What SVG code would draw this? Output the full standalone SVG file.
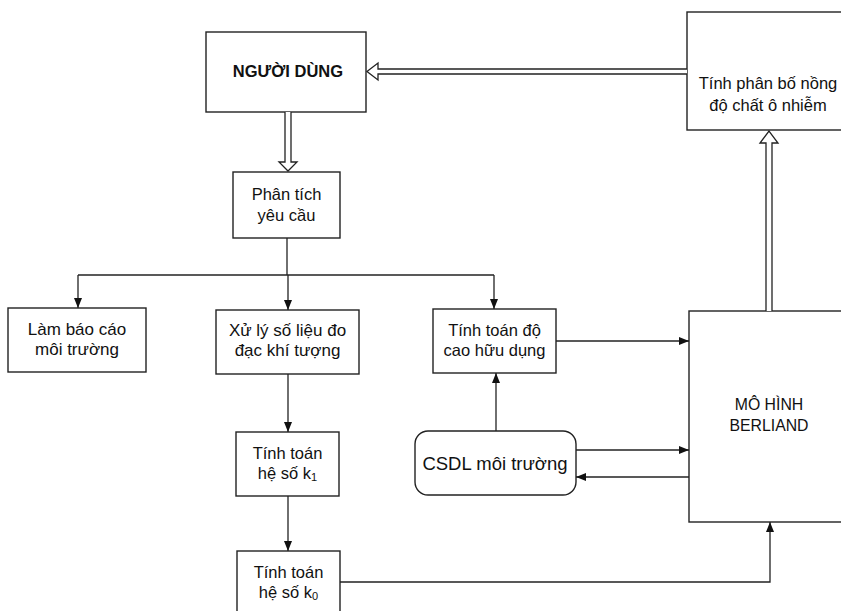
<svg xmlns="http://www.w3.org/2000/svg" width="841" height="611" viewBox="0 0 841 611">
<style>
.box{fill:#fff;stroke:#222;stroke-width:1.4}
.t{font-family:"Liberation Sans",Arial,sans-serif;font-size:16.5px;fill:#111;text-anchor:middle}
.ln{fill:none;stroke:#222;stroke-width:1.3}
.dbl{fill:#fff;stroke:#222;stroke-width:1.3;stroke-linejoin:miter}
</style>
<defs>
<marker id="ah" markerUnits="userSpaceOnUse" markerWidth="10" markerHeight="8" refX="10" refY="4" orient="auto">
<path d="M0,0 L10,4 L0,8 Z" fill="#111"/>
</marker>
</defs>
<rect width="841" height="611" fill="#fff"/>

<g id="nguoi-dung">
<rect class="box" x="206" y="32" width="160" height="80"/>
<text class="t" x="288" y="77" style="font-weight:bold">NGƯỜI DÙNG</text>
</g>
<g id="tinh-phan-bo">
<rect class="box" x="687" y="12" width="200" height="118"/>
<text class="t" x="768" y="89">Tính phân bố nồng</text>
<text class="t" x="768" y="111">độ chất ô nhiễm</text>
</g>
<g id="phan-tich">
<rect class="box" x="233" y="172" width="107" height="66"/>
<text class="t" x="286.5" y="200">Phân tích</text>
<text class="t" x="286.5" y="221">yêu cầu</text>
</g>
<g id="lam-bao-cao">
<rect class="box" x="8" y="308" width="138" height="64"/>
<text class="t" x="77" y="335" style="font-size:17px">Làm báo cáo</text>
<text class="t" x="77" y="355" style="font-size:17px">môi trường</text>
</g>
<g id="xu-ly">
<rect class="box" x="216" y="310" width="143" height="64"/>
<text class="t" x="287.5" y="336" style="font-size:17px">Xử lý số liệu đo</text>
<text class="t" x="287.5" y="356" style="font-size:17px">đạc khí tượng</text>
</g>
<g id="do-cao">
<rect class="box" x="433" y="309" width="123" height="64"/>
<text class="t" x="494.5" y="336">Tính toán độ</text>
<text class="t" x="494.5" y="356">cao hữu dụng</text>
</g>
<g id="k1">
<rect class="box" x="236" y="432" width="103" height="64"/>
<text class="t" x="287.5" y="459">Tính toán</text>
<text class="t" x="287.5" y="479">hệ số k<tspan style="font-size:11px" dy="2">1</tspan></text>
</g>
<g id="k0">
<rect class="box" x="237" y="551" width="103" height="70"/>
<text class="t" x="288.5" y="578">Tính toán</text>
<text class="t" x="288.5" y="598">hệ số k<tspan style="font-size:11px" dy="2">0</tspan></text>
</g>
<g id="csdl">
<rect class="box" x="415" y="431" width="161" height="64" rx="13" ry="13"/>
<text class="t" x="495" y="470" style="font-size:18.5px">CSDL môi trường</text>
</g>
<g id="berliand">
<rect class="box" x="689" y="311" width="200" height="211"/>
<text class="t" x="769" y="410" style="font-size:15.8px">MÔ HÌNH</text>
<text class="t" x="769" y="431" style="font-size:15.8px">BERLIAND</text>
</g>

<g id="connectors">
<path class="dbl" d="M687,69 L378,69 L378,63 L367,71.5 L378,80 L378,74 L687,74"/>
<path class="dbl" d="M285,112 L285,162 L279,162 L288,171 L297,162 L291,162 L291,112"/>
<path class="dbl" d="M766,311 L766,143 L760,143 L769,131 L778,143 L772,143 L772,311"/>
<path class="ln" d="M287,238 L287,275"/>
<path class="ln" d="M78,275 L494,275"/>
<path class="ln" d="M78,275 L78,308" marker-end="url(#ah)"/>
<path class="ln" d="M288,275 L288,310" marker-end="url(#ah)"/>
<path class="ln" d="M494,275 L494,309" marker-end="url(#ah)"/>
<path class="ln" d="M288,374 L288,432" marker-end="url(#ah)"/>
<path class="ln" d="M288,496 L288,551" marker-end="url(#ah)"/>
<path class="ln" d="M340,582 L770,582 L770,522" marker-end="url(#ah)"/>
<path class="ln" d="M556,341 L689,341" marker-end="url(#ah)"/>
<path class="ln" d="M496,431 L496,373" marker-end="url(#ah)"/>
<path class="ln" d="M576,450 L689,450" marker-end="url(#ah)"/>
<path class="ln" d="M689,477 L576,477" marker-end="url(#ah)"/>
</g>
</svg>
